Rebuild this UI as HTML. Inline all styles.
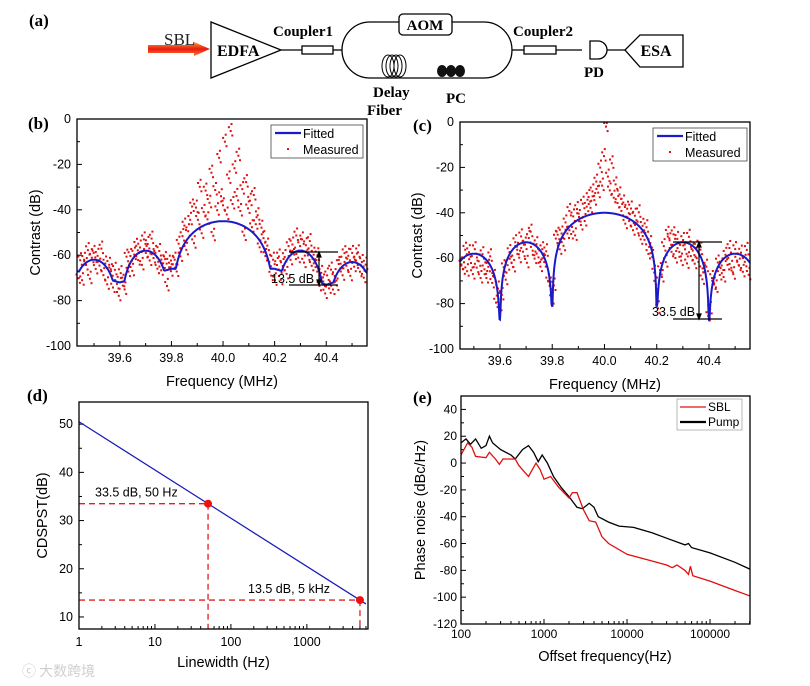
<!DOCTYPE html>
<html><head><meta charset="utf-8">
<style>
html,body{margin:0;padding:0;background:#fff;}
svg{display:block;font-family:"Liberation Sans",Arial,sans-serif;}
.ser{font-family:"Liberation Serif","Times New Roman",serif;font-weight:bold;}
</style></head>
<body>
<svg id="fig" width="810" height="686" viewBox="0 0 810 686" xmlns="http://www.w3.org/2000/svg">
<defs>
<linearGradient id="arrowGrad" x1="0" y1="0" x2="0" y2="1">
<stop offset="0" stop-color="#ff9a3a"/><stop offset="0.5" stop-color="#e81a10"/><stop offset="1" stop-color="#ff7a30"/>
</linearGradient>
</defs>
<g fill="none" stroke="#000" stroke-width="1.3">
<text x="29" y="26" class="ser" font-size="17" fill="#000" stroke="none">(a)</text>
<text x="164" y="45" font-family="Liberation Serif,serif" font-size="17" fill="#222" stroke="none">SBL</text>
<polygon points="148,45 194,45 194,42 210,49 194,56 194,53 148,53" fill="url(#arrowGrad)" stroke="none"/>
<polygon points="211,22 211,78 281,50"/>
<text x="217" y="56" class="ser" font-size="16" fill="#000" stroke="none">EDFA</text>
<line x1="281" y1="50" x2="302" y2="50"/>
<rect x="302" y="46" width="31" height="8"/>
<text x="273" y="36" class="ser" font-size="15" fill="#000" stroke="none">Coupler1</text>
<line x1="333" y1="50" x2="342" y2="50"/>
<rect x="342" y="22" width="170" height="56" rx="28" ry="28"/>
<rect x="399" y="14" width="53" height="21" rx="4" fill="#fff"/>
<text x="425" y="30" class="ser" font-size="15" fill="#000" stroke="none" text-anchor="middle">AOM</text>
<g stroke-width="1">
<ellipse cx="388" cy="66" rx="6" ry="11" fill="#fff"/><ellipse cx="392" cy="66" rx="6" ry="11"/><ellipse cx="396" cy="66" rx="6" ry="11"/><ellipse cx="400" cy="66" rx="6" ry="11"/>
</g>
<g fill="#111" stroke="none">
<ellipse cx="442" cy="71" rx="5" ry="6"/><ellipse cx="451" cy="71" rx="5" ry="6"/><ellipse cx="460" cy="71" rx="5" ry="6"/>
</g>
<text x="373" y="97" class="ser" font-size="15" fill="#000" stroke="none">Delay</text>
<text x="367" y="115" class="ser" font-size="15" fill="#000" stroke="none">Fiber</text>
<text x="446" y="103" class="ser" font-size="15" fill="#000" stroke="none">PC</text>
<line x1="512" y1="50" x2="524" y2="50"/>
<rect x="524" y="46" width="32" height="8"/>
<text x="513" y="36" class="ser" font-size="15" fill="#000" stroke="none">Coupler2</text>
<line x1="556" y1="50" x2="582" y2="50"/>
<path d="M590,41 H598 A9,9 0 0 1 598,59 H590 Z"/>
<text x="584" y="77" class="ser" font-size="15" fill="#000" stroke="none">PD</text>
<line x1="607" y1="50" x2="625" y2="50"/>
<polygon points="625,50 640,35 683,35 683,67 640,67"/>
<text x="656" y="56" class="ser" font-size="16" fill="#000" stroke="none" text-anchor="middle">ESA</text>
</g>
<g id="charts"></g>
<text x="22" y="676" font-family="Noto Sans CJK SC,sans-serif" font-size="14" fill="#cfcfcf">ⓒ 大数跨境</text>
</svg>
<script>
// ---------- data ----------
const bNullX = [39.4, 39.6, 39.8, 40.2, 40.4, 40.6];
const bNullY = [-66, -72, -66, -66, -73, -66];
const bPeakY = [-62, -58, -45, -58, -63];
const bMeasDev = [-3,4,-6,2,-1,5,-8,1,3,-4,2,-2,6,-5,1,-7,3,2,-3,5,-1,-6,4,0,-4,7,-2,3,-5,1,4,-3,2,-6,5,-1,3,-4,6,-2,1,-5,4,-3,2,5,-7,3,-1,2,
4,-3,6,-2,5,8,-4,3,7,12,-5,10,4,18,-3,6,15,2,9,22,-6,14,5,28,11,7,35,3,19,40,8,24,12,30,6,16,-4,20,9,13,2,17,5,10,-3,7,4,-2,5,1,
-3,4,-5,2,6,-4,1,3,-6,5,-2,4,-1,7,-3,2,5,-5,3,-1,6,-4,2,-2,5,-6,3,1,-4,4,-2,6,-3,1,-5,3,2,-4,5,-1,3,-6,4,-2,1,5,-3,2,-4,3];
const cNullX = [39.4, 39.6, 39.8, 40.2, 40.4, 40.6];
const cNullY = [-70, -87, -81, -81, -87, -70];
const cPeakY = [-58, -53, -40, -53, -58];
const cMeasDev = [-2,-5,3,-7,1,-4,-9,2,-6,-3,-10,1,-5,-8,-2,4,-6,-1,-9,3,6,-4,2,-7,-3,1,-5,-8,2,-2,-6,3,-4,-1,-9,2,5,-3,-6,1,-4,-7,2,-2,5,-5,-1,3,-6,8,
6,-3,2,-5,4,-2,7,-4,3,-6,5,1,-3,6,-2,4,8,3,10,6,14,9,20,12,25,38,16,10,22,7,13,5,9,2,6,-3,4,-1,5,-4,3,-2,6,-5,2,-3,4,-6,1,-2,
-4,3,-7,2,-5,6,-3,8,4,-2,5,-6,2,-4,-8,1,-3,-9,3,-5,-2,-7,1,-4,3,-8,-2,5,-6,-1,4,-3,-7,2,-5,-2,-8,1,-4,3,-6,-9,2,-3,-5,1,-7,-2,4,-6];
const freqTicks = [39.6, 39.8, 40.0, 40.2, 40.4];
const freqTickLabels = ["39.6", "39.8", "40.0", "40.2", "40.4"];
const contrastTicks = [0, -20, -40, -60, -80, -100];
const lwLineX = [1, 6000];
const lwLineY = [50.5, 12.7];
const lwPointX = [50, 5000];
const lwPointY = [33.5, 13.5];
const lwPointLabels = ["33.5 dB, 50 Hz", "13.5 dB, 5 kHz"];
const lwXTicks = [1, 10, 100, 1000];
const lwYTicks = [10, 20, 30, 40, 50];
const pumpF = [100,115,130,150,175,200,220,240,300,400,450,550,650,750,850,950,1100,1300,1600,2000,2500,2900,3500,4000,4500,6000,8000,12000,20000,30000,50000,55000,60000,100000,200000,300000];
const pumpDb = [15,18,14,18,11,13,20,15,10,6,3,10,13,8,1,6,0,-10,-18,-25,-33,-34,-30,-33,-40,-44,-47,-48,-52,-56,-61,-60,-63,-67,-74,-79];
const sblF = [100,120,135,150,200,220,260,290,320,450,500,650,800,900,1000,1200,1500,2000,2200,2500,3000,3500,4200,5000,6000,10000,20000,30000,35000,40000,50000,55000,58000,62000,100000,200000,300000];
const sblDb = [6,15,12,5,4,8,3,-1,3,3,-2,-10,0,-5,-12,-10,-18,-26,-22,-22,-35,-43,-44,-55,-60,-68,-73,-76,-78,-76,-80,-83,-77,-84,-88,-95,-99];
const pnXTicks = [100, 1000, 10000, 100000];
const pnYTicks = [40, 20, 0, -20, -40, -60, -80, -100, -120];

// ---------- helpers ----------
const NS = "http://www.w3.org/2000/svg";
const root = document.getElementById('charts');
// marker glyph: small cluster of dots (pixel offsets = marker style)
const markerOffsets = [[0,0],[1.6,4.5],[-1.8,-3.8],[0.8,-7]];
function mk(tag, attrs, parent) {
  const e = document.createElementNS(NS, tag);
  for (const k in attrs) e.setAttribute(k, attrs[k]);
  (parent || root).appendChild(e);
  return e;
}
function linScale(d0, d1, r0, r1) { return v => r0 + (v - d0) / (d1 - d0) * (r1 - r0); }
function logScale(d0, d1, r0, r1) { return v => r0 + (Math.log10(v) - Math.log10(d0)) / (Math.log10(d1) - Math.log10(d0)) * (r1 - r0); }
function txt(x, y, s, size, anchor, parent, name, extra) {
  const t = mk('text', Object.assign({x: x, y: y, 'font-size': size, 'text-anchor': anchor || 'start', fill: '#000'}, extra || {}), parent);
  t.textContent = s;
  
  
  return t;
}
function frame(g, L, T, R, B) {
  const r = mk('rect', {x: L, y: T, width: R - L, height: B - T, fill: 'none', stroke: '#000', 'stroke-width': 1.3}, g);
  
  
}
function tickLine(g, x1, y1, x2, y2) {
  mk('line', {x1: x1, y1: y1, x2: x2, y2: y2, stroke: '#000', 'stroke-width': 1}, g);
}
function fitVal(x, nx, ny, py, depth) {
  for (let i = 0; i < nx.length - 1; i++) {
    if (x >= nx[i] && x <= nx[i + 1]) {
      const t = (x - nx[i]) / (nx[i + 1] - nx[i]);
      const s = Math.max(Math.sin(Math.PI * t), 1e-6);
      const nullV = ny[i] + (ny[i + 1] - ny[i]) * t;
      return Math.max(nullV, py[i] + depth * 20 * Math.log10(s));
    }
  }
  return ny[0];
}

function contrastPanel(opt) {
  const g = mk('g', {});
  
  
  const {L, T, R, B} = opt;
  const xs = linScale(opt.x0, opt.x1, L, R);
  const ys = linScale(0, -100, T, B);
  for (let v = 39.5; v <= 40.55; v += 0.1) {
    const xv = xs(+v.toFixed(2));
    const major = freqTicks.some(t => Math.abs(t - v) < 1e-6);
    tickLine(g, xv, B, xv, B - (major ? 5 : 3));
  }
  freqTicks.forEach((t, i) => txt(xs(t), B + 16, freqTickLabels[i], 12.5, 'middle', g, 'x-tick-label'));
  for (let v = 0; v >= -100; v -= 10) {
    const major = v % 20 === 0;
    tickLine(g, L, ys(v), L + (major ? 5 : 3), ys(v));
  }
  contrastTicks.forEach(t => txt(L - 6, ys(t) + 4, String(t), 12.5, 'end', g, 'y-tick-label'));
  // measured (drawn first, fitted on top)
  const mg = mk('g', {fill: '#e01010'}, g);
  
  
  const N = opt.dev.length;
  opt.dev.forEach((dv, i) => {
    const xv = opt.x0 + 0.005 + i * (opt.x1 - opt.x0 - 0.01) / (N - 1);
    const yv = Math.min(0, Math.max(-100, fitVal(xv, opt.nx, opt.ny, opt.py, opt.depth) + dv));
    const cx = xs(xv), cy = ys(yv);
    const pg = mk('g', {}, mg);
    
    
    markerOffsets.forEach(o => {
      const yy = Math.min(B - 1, Math.max(T + 1, cy + o[1]));
      mk('rect', {x: (cx + o[0] - 1).toFixed(1), y: (yy - 1).toFixed(1), width: 2, height: 2}, pg);
    });
  });
  let d = '';
  for (let px = L; px <= R; px += 0.5) {
    const xv = opt.x0 + (px - L) / (R - L) * (opt.x1 - opt.x0);
    d += (px === L ? 'M' : 'L') + px.toFixed(1) + ',' + ys(fitVal(xv, opt.nx, opt.ny, opt.py, opt.depth)).toFixed(1);
  }
  const fit = mk('path', {d: d, fill: 'none', stroke: '#1a1ac8', 'stroke-width': 2}, g);
  
  
  frame(g, L, T, R, B);
  const a = opt.ann;
  const ag = mk('g', {stroke: '#000', 'stroke-width': 1.2}, g);
  
  
  mk('line', {x1: a.x1, y1: a.yt, x2: a.x2, y2: a.yt}, ag);
  mk('line', {x1: a.x1, y1: a.yb, x2: a.x2, y2: a.yb}, ag);
  mk('line', {x1: a.xv, y1: a.yt, x2: a.xv, y2: a.yb}, ag);
  mk('polygon', {points: `${a.xv},${a.yt} ${a.xv - 2},${a.yt + 5} ${a.xv + 2},${a.yt + 5}`, fill: '#000'}, ag);
  mk('polygon', {points: `${a.xv},${a.yb} ${a.xv - 2},${a.yb - 5} ${a.xv + 2},${a.yb - 5}`, fill: '#000'}, ag);
  txt(a.tx, a.ty, a.label, 12.5, 'start', g, 'dip-label');
  const lg = mk('g', {}, g);
  
  
  mk('rect', {x: opt.lx, y: opt.ly, width: opt.lw, height: 33, fill: '#fff', stroke: '#444', 'stroke-width': 0.8}, lg);
  mk('line', {x1: opt.lx + 4, y1: opt.ly + 8, x2: opt.lx + 30, y2: opt.ly + 8, stroke: '#1a1ac8', 'stroke-width': 2.2}, lg);
  txt(opt.lx + 32, opt.ly + 13, 'Fitted', 12.5, 'start', lg, 'legend-fitted');
  mk('rect', {x: opt.lx + 16, y: opt.ly + 23, width: 2, height: 2, fill: '#e01010'}, lg);
  txt(opt.lx + 32, opt.ly + 29, 'Measured', 12.5, 'start', lg, 'legend-measured');
  txt(opt.px, opt.py2, opt.plabel, 17, 'start', g, 'panel-label', {class: 'ser'});
  txt((L + R) / 2, B + 40, 'Frequency (MHz)', 14.5, 'middle', g, 'x-axis-title');
  txt(0, 0, 'Contrast (dB)', 14.5, 'middle', g, 'y-axis-title', {transform: `translate(${opt.ytx},${(T + B) / 2}) rotate(-90)`});
}
contrastPanel({name: 'panel-b-chart', L: 77, T: 119, R: 367, B: 346, x0: 39.434, x1: 40.558,
  nx: bNullX, ny: bNullY, py: bPeakY, depth: 1.2, dev: bMeasDev,
  ann: {x1: 289, x2: 338, yt: 252, yb: 285, xv: 319, tx: 271, ty: 283, label: '13.5 dB'},
  lx: 271, ly: 125, lw: 92, px: 28, py2: 129, plabel: '(b)', ytx: 40});
contrastPanel({name: 'panel-c-chart', L: 460, T: 122, R: 750, B: 349, x0: 39.447, x1: 40.557,
  nx: cNullX, ny: cNullY, py: cPeakY, depth: 1.0, dev: cMeasDev,
  ann: {x1: 673, x2: 722, yt: 242, yb: 319, xv: 699, tx: 652, ty: 316, label: '33.5 dB'},
  lx: 653, ly: 128, lw: 94, px: 413, py2: 131, plabel: '(c)', ytx: 422});

(function () {
  const g = mk('g', {});
  
  
  const L = 79, T = 402, R = 368, B = 629;
  const xs = logScale(1, 6380, L, R);
  const ys = linScale(7.5, 54.6, B, T);
  for (let dec = 1; dec <= 1000; dec *= 10) {
    for (let m = 1; m <= 9; m++) {
      const v = dec * m;
      if (v > 6380) break;
      tickLine(g, xs(v), B, xs(v), B - (m === 1 ? 5 : 3));
    }
  }
  lwXTicks.forEach(t => txt(xs(t), B + 17, String(t), 12.5, 'middle', g, 'x-tick-label'));
  for (let v = 10; v <= 50; v += 5) tickLine(g, L, ys(v), L + (v % 10 === 0 ? 5 : 3), ys(v));
  lwYTicks.forEach(t => txt(L - 6, ys(t) + 4, String(t), 12.5, 'end', g, 'y-tick-label'));
  const ln = mk('line', {x1: xs(lwLineX[0]), y1: ys(lwLineY[0]), x2: xs(lwLineX[1]), y2: ys(lwLineY[1]), stroke: '#1a1ab8', 'stroke-width': 1.2}, g);
  
  
  lwPointX.forEach((px, i) => {
    const cx = xs(px), cy = ys(lwPointY[i]);
    const h = mk('line', {x1: L, y1: cy, x2: cx, y2: cy, stroke: '#e02020', 'stroke-width': 1.3, 'stroke-dasharray': '6,4'}, g);
    
    
    const v = mk('line', {x1: cx, y1: cy, x2: cx, y2: B, stroke: '#e02020', 'stroke-width': 1.3, 'stroke-dasharray': '6,4'}, g);
    
    
    const c = mk('circle', {cx: cx, cy: cy, r: 4, fill: '#ee1010'}, g);
    
    
    txt(i === 0 ? 95 : 248, cy - 7, lwPointLabels[i], 12.5, 'start', g, 'point-label');
  });
  frame(g, L, T, R, B);
  txt(27, 401, '(d)', 17, 'start', g, 'panel-label', {class: 'ser'});
  txt((L + R) / 2, 667, 'Linewidth (Hz)', 14.5, 'middle', g, 'x-axis-title');
  txt(0, 0, 'CDSPST(dB)', 14.5, 'middle', g, 'y-axis-title', {transform: `translate(47,${(T + B) / 2}) rotate(-90)`});
})();

(function () {
  const g = mk('g', {});
  
  
  const L = 461, T = 396, R = 750, B = 624;
  const xs = logScale(100, 303000, L, R);
  const ys = linScale(-120, 50, B, T);
  for (let dec = 100; dec <= 100000; dec *= 10) {
    for (let m = 1; m <= 9; m++) {
      const v = dec * m;
      if (v > 303000) break;
      tickLine(g, xs(v), B, xs(v), B - (m === 1 ? 5 : 3));
    }
  }
  pnXTicks.forEach(t => txt(xs(t), B + 14, String(t), 12, 'middle', g, 'x-tick-label'));
  for (let v = -120; v <= 50; v += 10) tickLine(g, L, ys(v), L + (v % 20 === 0 ? 5 : 3), ys(v));
  pnYTicks.forEach(t => txt(L - 4, ys(t) + 4, String(t), 12, 'end', g, 'y-tick-label'));
  function series(F, D, color, name) {
    const d = F.map((f, i) => (i ? 'L' : 'M') + xs(f).toFixed(1) + ',' + ys(D[i]).toFixed(1)).join('');
    const p = mk('path', {d: d, fill: 'none', stroke: color, 'stroke-width': 1.3}, g);
    
    
  }
  series(pumpF, pumpDb, '#000', 'pump-line');
  series(sblF, sblDb, '#e01010', 'sbl-line');
  frame(g, L, T, R, B);
  const lg = mk('g', {}, g);
  
  
  mk('rect', {x: 677, y: 399, width: 65, height: 31, fill: '#fff', stroke: '#999', 'stroke-width': 0.7}, lg);
  mk('line', {x1: 680, y1: 407, x2: 706, y2: 407, stroke: '#e01010', 'stroke-width': 1.3}, lg);
  txt(708, 411, 'SBL', 12, 'start', lg, 'legend-sbl');
  mk('line', {x1: 680, y1: 422, x2: 706, y2: 422, stroke: '#000', 'stroke-width': 2.2}, lg);
  txt(708, 426, 'Pump', 12, 'start', lg, 'legend-pump');
  txt(413, 403, '(e)', 17, 'start', g, 'panel-label', {class: 'ser'});
  txt(605, 661, 'Offset frequency(Hz)', 14.5, 'middle', g, 'x-axis-title');
  txt(0, 0, 'Phase noise (dBc/Hz)', 14.5, 'middle', g, 'y-axis-title', {transform: `translate(425,${(T + B) / 2}) rotate(-90)`});
})();
</script>
</body></html>
